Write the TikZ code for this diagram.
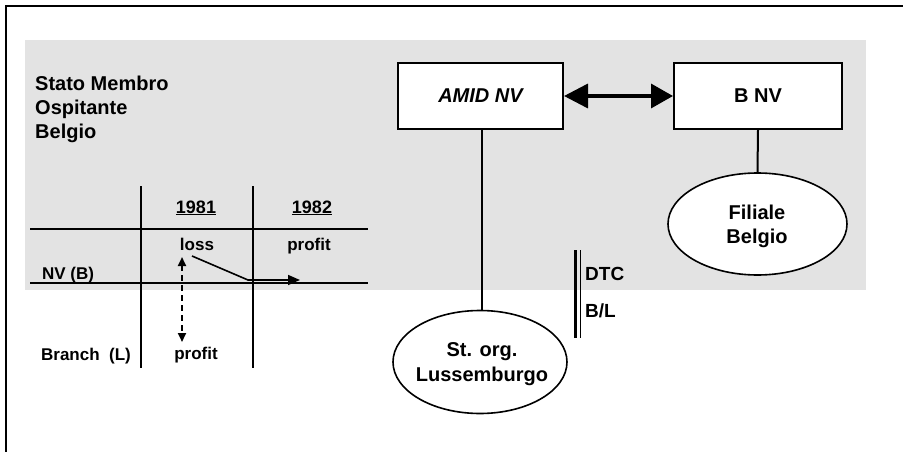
\documentclass[tikz,border=0pt]{standalone}
\usepackage{fontspec}
\setmainfont{Liberation Sans}
\usetikzlibrary{arrows.meta,shapes.geometric}
\begin{document}
\begin{tikzpicture}[x=1pt,y=-1pt,
  txt/.style={inner sep=0pt, font=\bfseries\fontsize{17}{20}\selectfont},
  yeartxt/.style={inner sep=0pt, font=\bfseries\fontsize{18}{20}\selectfont},
  box/.style={draw, line width=2pt, fill=white, minimum width=165pt, minimum height=66pt, inner sep=0pt, font=\bfseries\fontsize{20}{22}\selectfont},
  ell/.style={draw, ellipse, line width=1.6pt, fill=white, inner sep=0pt},
  elltxt/.style={inner sep=0pt, align=center, font=\bfseries\fontsize{20}{25}\selectfont},
  tline/.style={line width=1.5pt},
  conn/.style={line width=2pt}]
\useasboundingbox (0,0) rectangle (903,452);
% shaded halftone background
\fill[black!11] (25,40) rectangle (866,290);
% frame
\draw[line width=1.5pt] (6,452) -- (6,6) -- (903,6);
% title
\node[txt, anchor=north west, align=left, font=\bfseries\fontsize{20}{24}\selectfont] (title) at (35,76) {Stato Membro\\Ospitante\\Belgio};
% table
\draw[tline] (30,229) -- (368,229);
\draw[tline] (30,283) -- (368,283);
\draw[line width=2pt] (141,186) -- (141,368);
\draw[tline] (253,186) -- (253,368);
\node[yeartxt, anchor=base] (y81) at (196,213) {\underline{1981}};
\node[yeartxt, anchor=base] (y82) at (312,213) {\underline{1982}};
\node[txt, anchor=base] (loss) at (197,250) {loss};
\node[txt, anchor=base] (uprofit) at (309,250) {profit};
\node[txt, anchor=base] (nvb) at (68,279) {NV (B)};
\node[txt, anchor=base] (branch) at (86,360) {Branch\ \ (L)};
\node[txt, anchor=base] (lprofit) at (196,359) {profit};
\coordinate (da) at (182,257);
\coordinate (db) at (182,342);
\draw[line width=2.2pt, dash pattern=on 6pt off 4pt, {Triangle[length=9pt,width=8pt]}-{Triangle[length=9pt,width=8pt]}] (da) -- (db);
\coordinate (sa) at (192,256);
\coordinate (sb) at (248,280);
\coordinate (sc) at (300,280);
\draw[line width=1.6pt, -{Triangle[length=12pt,width=10pt]}] (sa) -- (sb) -- (sc);
% boxes
\node[box] (amid) at (480.5,96) {\itshape AMID NV};
\node[box, minimum width=168pt] (bnv) at (758,96) {B NV};
\draw[line width=3.5pt, {Triangle[length=24pt,width=24pt]}-{Triangle[length=22pt,width=24pt]}] (amid.east) -- (bnv.west);
% ellipses
\node[ell, minimum width=174pt, minimum height=103pt] (stlux) at (480,362) {};
\node[elltxt] (stluxt) at (482,364) {St. org.\\Lussemburgo};
\node[ell, minimum width=179pt, minimum height=102pt] (fil) at (757.5,224) {};
\node[elltxt, font=\bfseries\fontsize{20}{24}\selectfont] (filt) at (757,226) {Filiale\\Belgio};
\draw[conn] (amid.south -| 482,0) -- (stlux.north -| 482,0);
\draw[conn] (bnv.south) -- (fil.north);
% DTC double line
\coordinate (d1a) at (575.5,250);
\coordinate (d1b) at (575.5,338);
\coordinate (d2a) at (580,250);
\coordinate (d2b) at (580,338);
\draw[line width=2.2pt] (d1a) -- (d1b);
\draw[line width=1pt] (d2a) -- (d2b);
\node[txt, anchor=base west, font=\bfseries\fontsize{19}{20}\selectfont] (dtc) at (585,280) {DTC};
\node[txt, anchor=base west, font=\bfseries\fontsize{19}{20}\selectfont] (bl) at (585,317) {B/L};
\end{tikzpicture}
\end{document}
